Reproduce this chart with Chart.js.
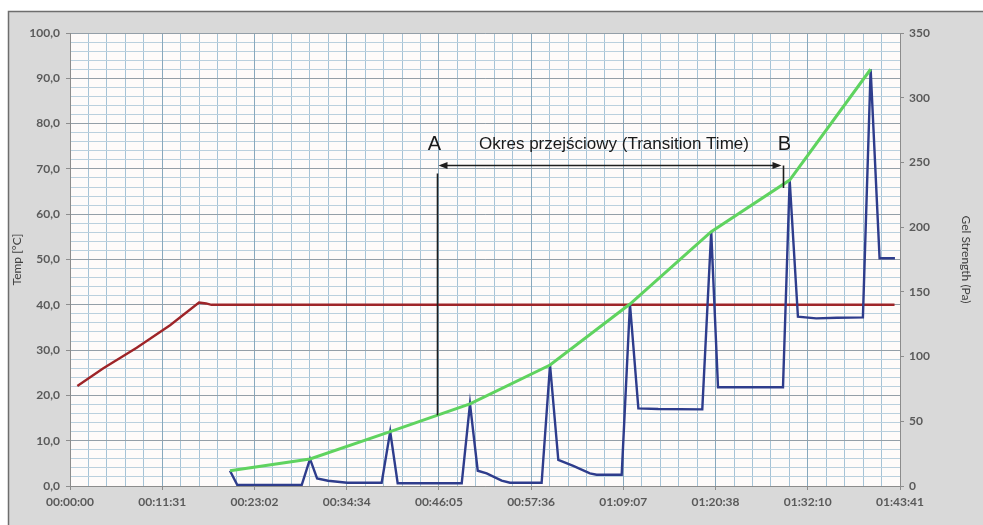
<!DOCTYPE html>
<html>
<head>
<meta charset="utf-8">
<title>Temp / Gel Strength</title>
<script src="https://cdn.jsdelivr.net/npm/chart.js@4.4.1/dist/chart.umd.min.js"></script>
<style>
  html, body { margin: 0; padding: 0; background: #ffffff; }
  #wrap { width: 983px; height: 525px; }
</style>
</head>
<body>
<div id="wrap"><canvas id="chart" width="983" height="525"></canvas></div>
<script>
// Axis tick labels
const timeTickLabels = ['00:00:00', '00:11:31', '00:23:02', '00:34:34', '00:46:05',
                        '00:57:36', '01:09:07', '01:20:38', '01:32:10', '01:43:41'];
const tempTickLabels = ['0,0', '10,0', '20,0', '30,0', '40,0', '50,0',
                        '60,0', '70,0', '80,0', '90,0', '100,0'];
const gelTickLabels = ['0', '50', '100', '150', '200', '250', '300', '350'];

// Temperature [°C] vs elapsed time [s]
const tempTimes  = [55, 250, 500, 750, 967, 1020, 1060, 6180];
const tempValues = [22.1, 26.0, 30.5, 35.5, 40.5, 40.3, 40.0, 40.0];

// Gel strength [Pa] vs elapsed time [s]
const gelTimes  = [1199, 1254, 1737, 1799, 1852, 1934, 2077, 2336, 2400, 2456, 2936,
                   2998, 3056, 3123, 3235, 3298, 3535, 3598, 3660, 3772, 3897, 3947,
                   4135, 4197, 4260, 4409, 4739, 4806, 4857, 5344, 5394, 5456, 5593,
                   5750, 5943, 6001, 6068, 6183];
const gelValues = [11.8, 0.8, 0.8, 20.9, 5.9, 4.1, 2.5, 2.5, 42.0, 2.1, 2.1,
                   63.5, 11.8, 9.8, 4.1, 2.5, 2.5, 93.5, 20.1, 15.5, 9.8, 8.7,
                   8.7, 140.6, 60.0, 59.5, 59.2, 196.5, 76.3, 76.3, 236.4, 130.8, 129.5,
                   130.0, 130.3, 322.0, 176.0, 176.0];

// Envelope through the gel strength peaks [Pa]
const peakTimes  = [1199, 1799, 2400, 2998, 3598, 4197, 4806, 5394, 6001];
const peakValues = [11.8, 20.9, 42.0, 63.5, 93.5, 140.6, 196.5, 236.4, 322.0];

// Transition period markers
const transitionLabel = 'Okres przejściowy (Transition Time)';
const transitionStart = 2751;      // s, point A
const transitionEnd = 5337;        // s, point B
const arrowLevel = 70.9;           // °C
const labelLevel = 74.2;           // °C
const startFootGel = 54.6;         // Pa
const endFootGel = 232.5;          // Pa

const toSeconds = s => s.split(':').reduce((a, p) => a * 60 + Number(p), 0);
const toNumber = s => parseFloat(s.replace(',', '.'));
const timeMax = toSeconds(timeTickLabels[timeTickLabels.length - 1]);
const tempMax = toNumber(tempTickLabels[tempTickLabels.length - 1]);
const gelMax = toNumber(gelTickLabels[gelTickLabels.length - 1]);

const pairs = (xs, ys) => xs.map((x, i) => ({ x: x, y: ys[i] }));

const tickFont = { family: 'Lato', size: 12, weight: 'bold' };
const tickColor = '#5a5a5a';

function evenTicks(max, count) {
  const out = [];
  for (let i = 0; i <= count; i++) out.push({ value: max * i / count });
  return out;
}

// Page frame, panel and plot-area fills
const framePlugin = {
  id: 'frame',
  beforeDraw(chart) {
    const ctx = chart.ctx;
    const a = chart.chartArea;
    ctx.save();
    ctx.fillStyle = '#ffffff';
    ctx.fillRect(0, 0, chart.width, chart.height);
    ctx.fillStyle = '#d9d9d9';
    ctx.fillRect(8, 11, chart.width - 8, chart.height - 11);
    ctx.strokeStyle = '#6e6e6e';
    ctx.lineWidth = 1.5;
    ctx.beginPath();
    ctx.moveTo(8.5, chart.height);
    ctx.lineTo(8.5, 11.5);
    ctx.lineTo(chart.width, 11.5);
    ctx.stroke();
    ctx.fillStyle = '#fefbfa';
    ctx.fillRect(a.left, a.top, a.right - a.left, a.bottom - a.top);
    ctx.restore();
  }
};

// Transition-period bracket with the A / B markers
const transitionPlugin = {
  id: 'transition',
  afterDatasetsDraw(chart) {
    const ctx = chart.ctx;
    const x = chart.scales.x, yT = chart.scales.y, yG = chart.scales.y2;
    const xa = Math.round(x.getPixelForValue(transitionStart)) + 0.5;
    const xb = Math.round(x.getPixelForValue(transitionEnd)) + 0.5;
    const ya = Math.round(yT.getPixelForValue(arrowLevel)) + 0.5;
    const yl = yT.getPixelForValue(labelLevel);
    ctx.save();
    ctx.strokeStyle = '#1e1e1e';
    ctx.fillStyle = '#1e1e1e';
    ctx.lineWidth = 1.6;
    // horizontal arrow
    ctx.beginPath();
    ctx.moveTo(xa + 4, ya);
    ctx.lineTo(xb - 4, ya);
    ctx.stroke();
    const head = (tipX, dir) => {
      ctx.beginPath();
      ctx.moveTo(tipX, ya);
      ctx.lineTo(tipX + dir * 9, ya - 3.5);
      ctx.lineTo(tipX + dir * 9, ya + 3.5);
      ctx.closePath();
      ctx.fill();
    };
    head(xa + 1, 1);
    head(xb - 1, -1);
    // drop lines to the envelope
    ctx.beginPath();
    ctx.moveTo(xa, ya + 8);
    ctx.lineTo(xa, yG.getPixelForValue(startFootGel));
    ctx.moveTo(xb + 1, ya);
    ctx.lineTo(xb + 1, yG.getPixelForValue(endFootGel) + 3);
    ctx.stroke();
    // labels
    ctx.textBaseline = 'alphabetic';
    ctx.textAlign = 'center';
    ctx.fillStyle = '#1a1a1a';
    ctx.font = '20px "Liberation Sans", Arial, sans-serif';
    ctx.fillText('A', xa - 3, yl);
    ctx.fillText('B', xb + 2, yl);
    ctx.font = '17px "Liberation Sans", Arial, sans-serif';
    ctx.fillText(transitionLabel, (xa + xb) / 2 + 4, yl - 1);
    ctx.restore();
  }
};

new Chart(document.getElementById('chart'), {
  type: 'line',
  data: {
    datasets: [
      {
        label: 'Temp',
        data: pairs(tempTimes, tempValues),
        yAxisID: 'y',
        borderColor: '#9e2428',
        borderWidth: 2.4,
        pointRadius: 0,
        tension: 0,
        order: 3
      },
      {
        label: 'Gel Strength',
        data: pairs(gelTimes, gelValues),
        yAxisID: 'y2',
        borderColor: '#2e3c8c',
        borderWidth: 2.4,
        pointRadius: 0,
        tension: 0,
        order: 2
      },
      {
        label: 'Gel Strength peaks',
        data: pairs(peakTimes, peakValues),
        yAxisID: 'y2',
        borderColor: '#5fd35f',
        borderWidth: 3,
        pointRadius: 0,
        tension: 0,
        order: 1
      }
    ]
  },
  options: {
    responsive: false,
    animation: false,
    events: [],
    layout: { padding: { top: 33, bottom: 0, left: 0, right: 0 } },
    plugins: { legend: { display: false }, tooltip: { enabled: false } },
    scales: {
      xMinor: {
        type: 'linear', position: 'bottom', min: 0, max: timeMax,
        afterBuildTicks: s => { s.ticks = evenTicks(timeMax, (timeTickLabels.length - 1) * 5); },
        ticks: { display: false },
        grid: { color: '#a6c3d6', lineWidth: 1, drawTicks: false, z: -2 },
        border: { display: false },
        afterFit: s => { s.height = 0; }
      },
      yMinor: {
        type: 'linear', position: 'left', min: 0, max: tempMax,
        afterBuildTicks: s => { s.ticks = evenTicks(tempMax, (tempTickLabels.length - 1) * 5); },
        ticks: { display: false },
        grid: { color: '#bad0de', lineWidth: 1, drawTicks: false, z: -2 },
        border: { display: false },
        afterFit: s => { s.width = 0; }
      },
      x: {
        type: 'linear', position: 'bottom', min: 0, max: timeMax,
        afterBuildTicks: s => { s.ticks = timeTickLabels.map(l => ({ value: toSeconds(l) })); },
        ticks: {
          autoSkip: false, maxRotation: 0, padding: 5,
          font: tickFont, color: tickColor,
          callback: (v, i) => timeTickLabels[i]
        },
        grid: { color: '#88a8bd', lineWidth: 1, tickLength: 4, tickColor: '#8c8c8c', z: -1 },
        border: { color: '#8c8c8c', width: 1 },
        afterFit: s => { s.height = 39; }
      },
      y: {
        type: 'linear', position: 'left', min: 0, max: tempMax,
        afterBuildTicks: s => { s.ticks = tempTickLabels.map(l => ({ value: toNumber(l) })); },
        ticks: {
          padding: 6, font: tickFont, color: tickColor,
          callback: (v, i) => tempTickLabels[i]
        },
        grid: { color: '#949fa8', lineWidth: 1, tickLength: 4, tickColor: '#8c8c8c', z: -1 },
        border: { color: '#8c8c8c', width: 1 },
        title: {
          display: true, text: 'Temp [°C]', color: '#404040',
          font: { family: 'Lato', size: 12 }, padding: { top: 10, bottom: 0 }
        },
        afterFit: s => { s.width = 70; }
      },
      y2: {
        type: 'linear', position: 'right', min: 0, max: gelMax,
        afterBuildTicks: s => { s.ticks = gelTickLabels.map(l => ({ value: toNumber(l) })); },
        ticks: {
          padding: 5, font: tickFont, color: tickColor,
          callback: (v, i) => gelTickLabels[i]
        },
        grid: { drawOnChartArea: false, tickLength: 4, tickColor: '#8c8c8c' },
        border: { color: '#8c8c8c', width: 1 },
        title: {
          display: true, text: 'Gel Strength (Pa)', color: '#404040',
          font: { family: 'Lato', size: 12 }, padding: { top: 10, bottom: 0 }
        },
        afterFit: s => { s.width = 83; }
      }
    }
  },
  plugins: [framePlugin, transitionPlugin]
});
</script>
</body>
</html>
